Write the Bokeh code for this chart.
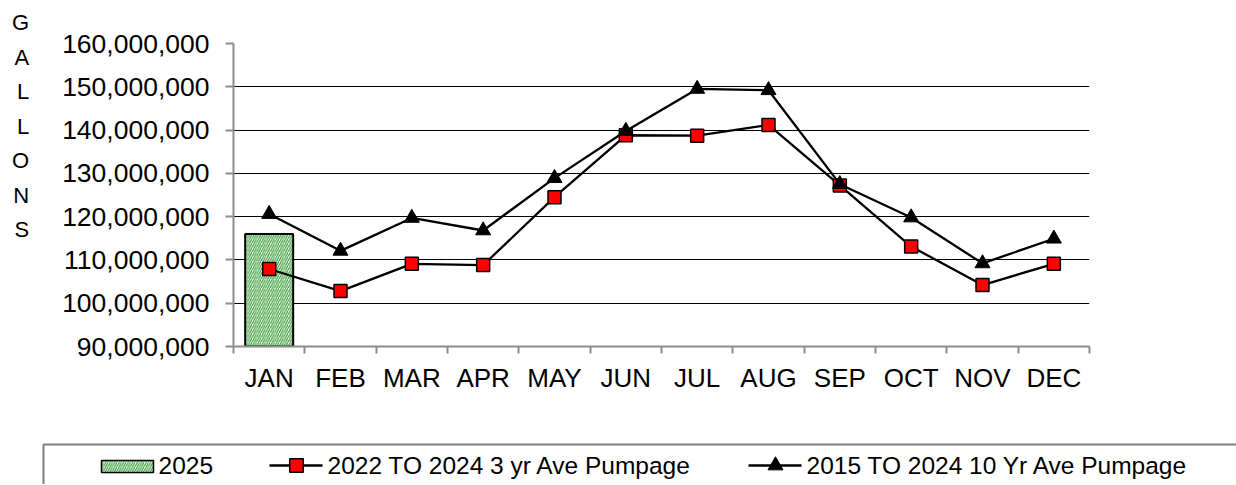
from bokeh.plotting import figure
from bokeh.models import Range1d, FixedTicker, NumeralTickFormatter
from bokeh.core.properties import value
from bokeh.embed import file_html
from bokeh.resources import INLINE

# ---------------- data ----------------
months = ["JAN", "FEB", "MAR", "APR", "MAY", "JUN", "JUL", "AUG", "SEP", "OCT", "NOV", "DEC"]
pumpage_2025 = [116_000_000]  # only January reported so far
ave_3yr = [107_900_000, 102_800_000, 109_100_000, 108_800_000, 124_500_000, 138_800_000,
           138_700_000, 141_200_000, 127_200_000, 113_100_000, 104_200_000, 109_100_000]
ave_10yr = [120_600_000, 112_100_000, 119_700_000, 116_800_000, 128_900_000, 139_800_000,
            149_500_000, 149_200_000, 127_500_000, 119_800_000, 109_200_000, 114_900_000]
y_ticks = [90_000_000, 100_000_000, 110_000_000, 120_000_000, 130_000_000,
           140_000_000, 150_000_000, 160_000_000]
series_names = ["2025", "2022 TO 2024 3 yr Ave Pumpage", "2015 TO 2024 10 Yr Ave Pumpage"]
y_title = "GALLONS"

FONT = "Liberation Sans"
AXIS_GRAY = "#8c8c8c"
HATCH_GREEN = "#3c9f3c"

# month slots on a numeric axis: category i occupies [i, i+1]
n = len(months)
centers = [i + 0.5 for i in range(n)]
bounds = list(range(n + 1))

# ---------------- main chart ----------------
p = figure(width=1236, height=435,
           x_range=Range1d(0, n),
           y_range=Range1d(y_ticks[0], y_ticks[-1]),
           output_backend="svg", toolbar_location=None,
           min_border_left=233, min_border_right=147,
           min_border_top=43, min_border_bottom=89)
p.outline_line_color = None
p.background_fill_color = "white"
p.border_fill_color = "white"

xaxis = p.xaxis[0]
xaxis.ticker = FixedTicker(ticks=centers, minor_ticks=bounds)
xaxis.major_label_overrides = {c: m for c, m in zip(centers, months)}
xaxis.axis_line_color = AXIS_GRAY
xaxis.axis_line_width = 2
xaxis.major_tick_line_color = None
xaxis.major_tick_out = 0
xaxis.major_tick_in = 0
xaxis.minor_tick_line_color = AXIS_GRAY
xaxis.minor_tick_line_width = 2
xaxis.minor_tick_out = 7
xaxis.minor_tick_in = 0
xaxis.major_label_standoff = 9
xaxis.major_label_text_font = FONT
xaxis.major_label_text_font_size = "26px"
xaxis.major_label_text_color = "black"

yaxis = p.yaxis[0]
yaxis.ticker = FixedTicker(ticks=y_ticks)
yaxis.formatter = NumeralTickFormatter(format="0,0")
yaxis.axis_line_color = AXIS_GRAY
yaxis.axis_line_width = 2
yaxis.major_tick_line_color = AXIS_GRAY
yaxis.major_tick_line_width = 2
yaxis.major_tick_out = 8
yaxis.major_tick_in = 0
yaxis.minor_tick_line_color = None
yaxis.major_label_standoff = 16
yaxis.major_label_text_font = FONT
yaxis.major_label_text_font_size = "26.5px"
yaxis.major_label_text_color = "black"

# vertical, letter-stacked axis title (blank trailing lines lift it toward the top)
yaxis.axis_label = "\n".join(list(y_title) + [""] * 4)
yaxis.axis_label_orientation = "horizontal"
yaxis.axis_label_standoff = 30
yaxis.axis_label_text_font = FONT
yaxis.axis_label_text_font_style = "normal"
yaxis.axis_label_text_font_size = "22px"
yaxis.axis_label_text_color = "black"
yaxis.axis_label_text_align = "center"
yaxis.axis_label_text_line_height = 1.38

p.xgrid.visible = False
p.ygrid.grid_line_color = "black"
p.ygrid.grid_line_width = 1

# 2025 bars
p.vbar(x=centers[:len(pumpage_2025)], top=pumpage_2025, width=0.673,
       fill_color="white", hatch_pattern="right_diagonal_line",
       hatch_color=HATCH_GREEN, hatch_scale=4.5, hatch_weight=1.2,
       line_color="black", line_width=2)

# 3-yr average
p.line(centers, ave_3yr, line_color="black", line_width=2.3)
p.scatter(centers, ave_3yr, marker="square", size=13,
          fill_color="#ff0000", line_color="black", line_width=1.5)

# 10-yr average
p.line(centers, ave_10yr, line_color="black", line_width=2.3)
p.scatter(centers, ave_10yr, marker="triangle", size=15,
          fill_color="black", line_color="black", line_width=1)

# ---------------- legend strip ----------------
LEG_H = 49
leg = figure(width=1236, height=LEG_H, x_range=Range1d(0, 1236), y_range=Range1d(0, LEG_H),
             x_axis_location=None, y_axis_location=None,
             output_backend="svg", toolbar_location=None,
             min_border_left=0, min_border_right=0, min_border_top=0, min_border_bottom=0)
leg.outline_line_color = None
leg.xgrid.visible = False
leg.ygrid.visible = False

# box frame (runs off the right/bottom edges as in the reference)
leg.quad(left=[43], right=[1300], bottom=[-20], top=[LEG_H - 9], fill_color=None,
         line_color="#7f7f7f", line_width=2)

row_y = 19
# item 1: hatched swatch
leg.quad(left=[101], right=[153], bottom=[row_y - 7], top=[row_y + 5],
         fill_color="white", hatch_pattern="right_diagonal_line",
         hatch_color=HATCH_GREEN, hatch_scale=4.5, hatch_weight=1.2,
         line_color="black", line_width=1.5)
# item 2: line + square
leg.line([269, 322], [row_y, row_y], line_color="black", line_width=2.3)
leg.scatter([296], [row_y], marker="square", size=13.5,
            fill_color="#ff0000", line_color="black", line_width=1.5)
# item 3: line + triangle
leg.line([748, 801], [row_y, row_y], line_color="black", line_width=2.3)
leg.scatter([775], [row_y], marker="triangle", size=15,
            fill_color="black", line_color="black", line_width=1)

leg.text(x=[158, 327, 806], y=[row_y] * 3, text=series_names,
         text_font=value(FONT), text_font_size="24.5px",
         text_baseline="middle", text_align="left", text_color="black")

open("out.html", "w").write(file_html([p, leg], INLINE))
